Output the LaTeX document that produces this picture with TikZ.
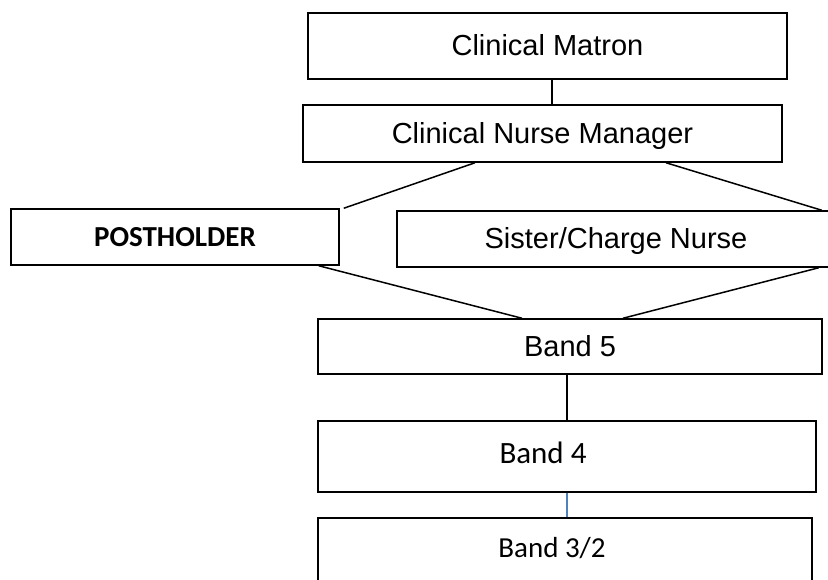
\documentclass[tikz,border=0pt]{standalone}
\usepackage{fontspec}
\setmainfont{Liberation Sans}
\newfontfamily\calibrifont{Carlito}
\definecolor{linkblue}{HTML}{4F81BD}
\tikzset{
  orgbox/.style={draw, line width=1.5pt, inner sep=0pt, text height=21pt, text depth=2pt, font=\fontsize{29}{34}\selectfont},
  bandtext/.style={anchor=base, inner sep=0pt, font=\calibrifont\fontsize{30}{36}\selectfont},
  linkline/.style={line width=1.5pt},
}

\begin{document}
\begin{tikzpicture}[x=1pt,y=1pt,yscale=-1,xscale=1]
\useasboundingbox (0,0) rectangle (828,579);

% Boxes
\node [orgbox, minimum width=479pt, minimum height=66pt] (matron) at (547.5,46) {Clinical Matron};
\node [orgbox, minimum width=479pt, minimum height=57pt] (cnm) at (542.5,133.5) {Clinical Nurse Manager};
\node [orgbox, minimum width=328pt, minimum height=56pt, font=\calibrifont\bfseries\fontsize{29}{34}\selectfont] (post) at (175,237) {POSTHOLDER};
\node [orgbox, minimum width=438pt, minimum height=56pt] (sister) at (616,239) {Sister/Charge Nurse};
\node [orgbox, minimum width=504pt, minimum height=55pt] (band5) at (570,346.5) {Band 5};
\node [orgbox, line width=1.8pt, minimum width=498pt, minimum height=71pt] (band4) at (567,456.5) {};
\node [orgbox, line width=1.8pt, minimum width=494pt, minimum height=64pt] (band32) at (565,550) {};

% Text Node
\node [bandtext, font=\calibrifont\fontsize{31}{36}\selectfont] (band4text) at (543,463) {Band 4};
% Text Node
\node [bandtext, font=\calibrifont\fontsize{29}{34}\selectfont] (band32text) at (552,557) {Band 3/2};

%Straight Lines
\draw [linkline] ([xshift=4.5pt]matron.south) -- ([xshift=4.5pt]matron.south |- cnm.north);
%Straight Lines
\draw [linkline] ([xshift=-67.5pt]cnm.south) -- ([xshift=4pt]post.north east);
%Straight Lines
\draw [linkline] ([xshift=123.5pt]cnm.south) -- ([xshift=-14pt]sister.north east);
%Straight Lines
\draw [linkline] ([xshift=-21pt]post.south east) -- ([xshift=-48pt]band5.north);
%Straight Lines
\draw [linkline] ([xshift=-17pt]sister.south east) -- ([xshift=53pt]band5.north);
%Straight Lines
\draw [linkline] (band4.north |- band5.south) -- (band4.north);
%Straight Lines
\draw [linkblue, line width=1.4pt] (band4.south) -- ([xshift=2pt]band32.north);

\end{tikzpicture}
\end{document}
